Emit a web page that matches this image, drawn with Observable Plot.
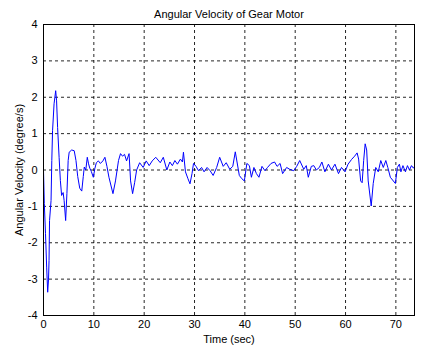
<!DOCTYPE html>
<html><head><meta charset="utf-8">
<script src="https://cdn.jsdelivr.net/npm/d3@7"></script>
<script src="https://cdn.jsdelivr.net/npm/@observablehq/plot@0.6"></script>
<style>body{margin:0;background:#fff}</style>
</head><body><div id="chart"></div>
<script>
const titleText = "Angular Velocity of Gear Motor";
const xLabel = "Time (sec)";
const yLabel = "Angular Velocity (degree/s)";
const xTicks = [0,10,20,30,40,50,60,70];
const yTicks = [-4,-3,-2,-1,0,1,2,3,4];
const time = [0,0.16,0.4,0.63,0.83,1.0,1.1,1.2,1.5,1.65,1.8,2.1,2.42,2.6,2.8,3.1,3.35,3.6,3.9,4.1,4.4,4.65,4.9,5.1,5.6,6.1,6.45,6.8,7.2,7.6,7.9,8.1,8.4,8.7,8.95,9.2,9.5,9.9,10.2,10.5,10.9,11.3,11.8,12.2,12.6,13.0,13.8,14.3,14.9,15.3,15.7,16.1,16.5,17.0,17.3,17.7,18.1,18.5,19.1,19.8,20.4,21.0,21.6,22.3,23.2,23.8,24.5,25.1,25.6,26.1,26.6,27.2,27.6,27.8,28.2,28.7,29.1,29.5,29.8,30.3,30.8,31.4,31.9,32.5,33.1,33.7,34.4,35.0,35.7,36.3,37.0,37.6,38.1,38.9,39.4,39.9,40.4,40.9,41.3,41.8,42.3,42.8,43.4,44.0,44.5,45.2,45.9,46.4,47.0,47.5,48.3,48.9,49.7,50.3,50.9,51.7,52.2,52.6,53.2,53.7,54.2,54.8,55.3,55.9,56.6,57.2,57.9,58.6,59.2,59.9,60.5,61.2,61.8,62.3,62.6,63.0,63.3,63.6,63.9,64.2,64.5,65.1,65.5,66.0,66.5,67.0,67.5,68.0,68.4,68.9,69.9,70.3,70.7,71.0,71.4,71.9,72.3,72.7,73.1,73.5,73.7];
const velocity = [0,-0.92,-1.75,-2.67,-3.36,-3.0,-2.49,-1.39,-0.84,0.26,1.08,1.82,2.18,1.9,1.17,0.35,-0.29,-0.7,-0.62,-0.84,-1.39,-0.65,0.26,0.49,0.55,0.53,0.26,-0.18,-0.5,-0.58,-0.18,0.08,0.0,0.35,0.17,0.05,-0.04,-0.2,0.04,0.2,0.25,0.18,0.25,0.35,0.1,-0.2,-0.65,-0.3,0.26,0.45,0.38,0.43,0.25,0.45,-0.3,-0.65,-0.35,0.0,0.2,0.07,0.25,0.12,0.25,0.35,0.2,0.35,0.0,0.22,0.12,0.26,0.16,0.3,0.22,0.49,-0.05,-0.24,-0.38,-0.1,0.18,0.1,-0.02,0.07,-0.05,0.07,-0.02,-0.15,0.07,0.35,0.1,0.2,0.02,0.1,0.5,-0.15,-0.24,-0.3,0.18,0.12,-0.2,0.07,-0.1,-0.2,0.1,-0.02,0.07,0.18,0.22,0.1,0.18,-0.1,0.07,0.02,-0.02,0.1,0.26,0.02,0.12,-0.2,0.1,0.12,0.0,0.07,0.22,-0.05,0.16,0.0,0.16,-0.1,0.07,-0.05,0.16,0.29,0.38,0.47,0.3,-0.3,-0.35,0.26,0.72,0.55,-0.3,-0.99,-0.37,0.07,-0.05,0.26,0.07,0.26,0.07,-0.2,-0.37,0.07,0.16,-0.05,0.12,-0.05,0.12,0.0,0.12,0.05,0.1];

const data = time.map((t, i) => ({t, v: velocity[i]}));

const chart = Plot.plot({
  width: 422,
  height: 348,
  marginLeft: 43,
  marginRight: 8,
  marginTop: 24,
  marginBottom: 33,
  style: {fontFamily: "'Liberation Sans', Arial, sans-serif", fontSize: "11px", color: "black", background: "white"},
  x: {domain: [0, 73.7], ticks: xTicks},
  y: {domain: [-4, 4], ticks: yTicks},
  marks: [
    Plot.gridX(xTicks.filter(d => d > 0 && d < 73.7), {stroke: "black", strokeOpacity: 0.85, strokeDasharray: "3,3"}),
    Plot.gridY(yTicks.filter(d => d > -4 && d < 4), {stroke: "black", strokeOpacity: 0.85, strokeDasharray: "3,3"}),
    Plot.line(data, {x: "t", y: "v", stroke: "#0000ff", strokeWidth: 1}),
    Plot.frame({stroke: "black"}),
    Plot.axisX(xTicks, {tickSize: 0, tickPadding: 5, tickFormat: d => String(d), label: xLabel, labelAnchor: "center", labelArrow: "none", labelOffset: 27}),
    Plot.axisY(yTicks, {tickSize: 0, tickPadding: 6, tickFormat: d => String(d), label: yLabel, labelAnchor: "center", labelArrow: "none", labelOffset: 28}),
    Plot.text([titleText], {frameAnchor: "top", dy: -14, fontSize: 11, fill: "black"})
  ]
});
document.getElementById("chart").appendChild(chart);
</script></body></html>
